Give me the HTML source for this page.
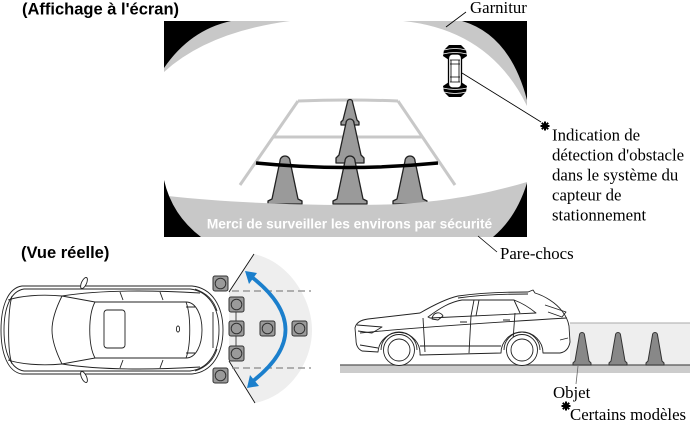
<!DOCTYPE html>
<html><head><meta charset="utf-8"><style>
html,body{margin:0;padding:0;background:#fff;}
svg{display:block;}
.sans{font-family:"Liberation Sans",Arial,sans-serif;font-weight:bold;}
.serif{font-family:"Liberation Serif","Times New Roman",serif;}
</style></head><body>
<svg width="690" height="434" viewBox="0 0 690 434" xmlns="http://www.w3.org/2000/svg">
<rect width="690" height="434" fill="#fff"/>
<!-- Titles -->
<text x="22" y="14.5" class="sans" font-size="16.5" fill="#000">(Affichage à l'écran)</text>
<text x="21" y="258" class="sans" font-size="16.5" fill="#000">(Vue réelle)</text>

<!-- SCREEN -->
<rect x="164" y="21" width="363" height="216" fill="#fff"/>
<path d="M164,21 L290,21 Q208,32 164,72 Z" fill="#c8c8c8"/>
<path d="M527,21 L403,21 Q490,30 527,106 Z" fill="#c8c8c8"/>
<path d="M164,21 L231,21 Q190,30 164,68 Z" fill="#000"/>
<path d="M527,21 L462,21 Q510,35 527,100 Z" fill="#000"/>

<!-- guide lines -->
<g stroke="#c8c8c8" stroke-width="3" fill="none" stroke-linecap="butt">
<path d="M298,101 Q348,99 398,101"/>
<path d="M298,101 L240,185"/>
<path d="M398,101 L455,185"/>
<path d="M273,137 L422,137"/>
</g>

<!-- cones in screen -->
<g fill="#9a9a9a" stroke="#222" stroke-width="1.3" stroke-linejoin="round">
<path d="M347.5,102 A2.5,2.5 0 0 1 352.5,102 L357,120 L359,122 L359,125 L341,125 L341,122 L343,120 Z"/>
<path d="M346,123 A4,4 0 0 1 354,123 L361,155 L364,158 L364,163 L336,163 L336,158 L339,155 Z"/>
<path d="M280,161 A5,5 0 0 1 290,161 L298,199 L302,201 L302,204 L268,204 L268,201 L272,199 Z"/>
<path d="M345,161 A5,5 0 0 1 355,161 L363,199 L367,201 L367,204 L333,204 L333,201 L337,199 Z"/>
<path d="M405,161 A5,5 0 0 1 415,161 L423,199 L427,201 L427,204 L393,204 L393,201 L397,199 Z"/>
</g>
<path d="M256,163 Q347,172 438,163" stroke="#000" stroke-width="3.5" fill="none"/>

<!-- bumper -->
<path d="M168,196 C230,203 330,207 400,204 C450,201 490,193 527,182 L527,237 L164,237 L164,195 Z" fill="#c8c8c8"/>
<path d="M164,180 Q172,215 201,237 L164,237 Z" fill="#000"/>
<path d="M527,183 Q516,218 493,237 L527,237 Z" fill="#000"/>
<text x="349.5" y="228.5" class="sans" font-size="13.7" fill="#fff" text-anchor="middle">Merci de surveiller les environs par sécurité</text>

<!-- small car icon -->
<g>
<path d="M449,45 L461,45 L466,50 L467,56 L461,60 L449,60 L443,56 L444,50 Z" fill="#000"/>
<path d="M444,50 Q455,47 466,50 M443,54 Q455,51 467,54" stroke="#fff" stroke-width="0.7" fill="none"/>
<path d="M449,97 L461,97 L466,92 L467,86 L461,82 L449,82 L443,86 L444,92 Z" fill="#000"/>
<path d="M444,92 Q455,95 466,92 M443,88 Q455,91 467,88" stroke="#fff" stroke-width="0.7" fill="none"/>
<rect x="448.5" y="54" width="13" height="34" rx="4" fill="#fff" stroke="#000" stroke-width="1.3"/>
<path d="M450,60 L460,60 M450,64 L460,64 M450,77 L460,77 M450,82 L460,82 M451,60 L451,82 M459,60 L459,82" stroke="#000" stroke-width="0.8" fill="none"/>
</g>

<!-- leaders -->
<g stroke="#000" stroke-width="0.8" fill="none">
<path d="M466,12 L446,27"/>
<path d="M462,73 L541,122"/>
<path d="M478,236 L497,252"/>
</g>
<text x="470" y="13" class="serif" font-size="16.8" fill="#000">Garnitur</text>

<!-- star 1 -->
<g stroke="#000" stroke-width="2" stroke-linecap="butt">
<path d="M540.5,126 L549.5,126 M545,121.5 L545,130.5 M541.8,122.8 L548.2,129.2 M548.2,122.8 L541.8,129.2"/>
</g>
<g class="serif" font-size="16.8" fill="#000">
<text x="552" y="140.5">Indication de</text>
<text x="552" y="160.5">détection d'obstacle</text>
<text x="552" y="180.5">dans le système du</text>
<text x="552" y="200.5">capteur de</text>
<text x="552" y="220.5">stationnement</text>
<text x="500" y="259">Pare-chocs</text>
<text x="553" y="398">Objet</text>
<text x="570" y="420">Certains modèles</text>
</g>
<g stroke="#000" stroke-width="2">
<path d="M561.5,406 L570.5,406 M566,401.5 L566,410.5 M562.8,402.8 L569.2,409.2 M569.2,402.8 L562.8,409.2"/>
</g>

<!-- TOP VIEW -->
<path d="M254,254 C290,262 312,300 312,330 C312,362 290,396 255,403 L229,361 L229,292 Z" fill="#eeeeee"/>
<path d="M254,254 L229,292 M229,361 L255,403" stroke="#111" stroke-width="0.9" fill="none"/>
<g stroke="#888" stroke-width="1.3" stroke-dasharray="7 4" fill="none">
<path d="M232,291 L311,291"/>
<path d="M232,368 L311,368"/>
</g>
<path d="M236,311 L236,346" stroke="#666" stroke-width="1.2"/>
<g stroke="#222" stroke-width="0.9" fill="none">
<path d="M22,286 L192,286 C212,288 223,306 223,330 C223,354 212,372 192,374 L22,374 C8,372 1,354 1,330 C1,306 8,288 22,286 Z" fill="#fff"/>
<path d="M24,289 L190,289 C208,291 219,307 219,330 C219,353 208,369 190,371 L24,371 C11,369 4,353 4,330 C4,307 11,291 24,289 Z"/>
<path d="M8,300 C20,296 40,294 62,296 M8,360 C20,364 40,366 62,364"/>
<path d="M12,296 C8,310 7,350 12,364"/>
<path d="M62,296 L95,302 L186,302 C196,302 202,315 202,330 C202,345 196,358 186,358 L95,358 L62,364 C55,350 52,340 52,330 C52,320 55,310 62,296 Z"/>
<path d="M95,302 C88,315 88,345 95,358"/>
<path d="M186,302 C191,315 191,345 186,358"/>
<path d="M186,307 L195,307 M186,353 L195,353"/>
<rect x="104" y="310" width="21" height="38" rx="3"/>
<path d="M62,296 C100,290 150,290 200,293 M62,364 C100,370 150,370 200,367"/>
<path d="M120,292 L123,300 M120,368 L123,360 M160,292 L163,300 M160,368 L163,360"/>
<path d="M195,289 C207,293 214,301 217,311 M195,371 C207,367 214,359 217,349"/>
<path d="M213,312 L213,348"/>
<ellipse cx="178" cy="329" rx="1.6" ry="3"/>
<ellipse cx="84" cy="283" rx="2.5" ry="6" transform="rotate(25 84 283)" fill="#fff"/>
<ellipse cx="84" cy="377" rx="2.5" ry="6" transform="rotate(-25 84 377)" fill="#fff"/>
</g>
<g fill="#9a9a9a" stroke="#333" stroke-width="1">
<rect x="213" y="276" width="15" height="15" rx="2"/>
<rect x="229" y="297" width="15" height="15" rx="2"/>
<rect x="229" y="321" width="15" height="15" rx="2"/>
<rect x="229" y="346" width="15" height="15" rx="2"/>
<rect x="213" y="368" width="15" height="15" rx="2"/>
<rect x="260" y="321" width="15" height="15" rx="2"/>
<rect x="292" y="321" width="15" height="15" rx="2"/>
<circle cx="220.5" cy="283.5" r="5.3"/>
<circle cx="236.5" cy="304.5" r="5.3"/>
<circle cx="236.5" cy="328.5" r="5.3"/>
<circle cx="236.5" cy="353.5" r="5.3"/>
<circle cx="220.5" cy="375.5" r="5.3"/>
<circle cx="267.5" cy="328.5" r="5.3"/>
<circle cx="299.5" cy="328.5" r="5.3"/>
</g>
<path d="M253,278 Q318,330 253,381" stroke="#1b7fcc" stroke-width="3.8" fill="none"/>
<path d="M245,271 L257,273 L249,284 Z" fill="#1b7fcc"/>
<path d="M247,388 L259,386 L250,375 Z" fill="#1b7fcc"/>

<!-- SIDE VIEW -->
<rect x="570" y="323" width="120" height="42" fill="#eeeeee"/>
<path d="M570,323 L690,323" stroke="#aaa" stroke-width="1"/>
<rect x="340" y="365" width="350" height="8" fill="#cccccc"/>
<path d="M340,365 L690,365" stroke="#555" stroke-width="1.2"/>
<g fill="#888" stroke="#333" stroke-width="1">
<path d="M579.5,335 A2.5,2.5 0 0 1 584.5,335 L589,361 L591,363 L591,365 L573,365 L573,363 L575,361 Z"/>
<path d="M615.5,335 A2.5,2.5 0 0 1 620.5,335 L625,361 L627,363 L627,365 L609,365 L609,363 L611,361 Z"/>
<path d="M652.5,335 A2.5,2.5 0 0 1 657.5,335 L662,361 L664,363 L664,365 L646,365 L646,363 L648,361 Z"/>
</g>
<path d="M578,366 L576,384" stroke="#666" stroke-width="0.8"/>
<g stroke="#222" stroke-width="0.9" fill="none" stroke-linejoin="round">
<path d="M356,340 L355,328 C356,323 360,320 368,319 L420,313 C432,306 445,299 458,296 C480,293 505,292 528,292 L533,290 L535,293 C545,296 556,303 562,311 C566,316 568,320 569,326 L570,342 C569,348 566,352 560,353 L543,353 A21,21 0 0 0 501,353 L420,355 A21,21 0 0 0 378,352 L362,351 C358,349 356,345 356,340 Z" fill="#fff"/>
<path d="M458,298 C480,295 505,294 528,294"/>
<path d="M428,317 C440,308 450,302 462,300 L514,300 C522,303 530,308 536,313 L430,318 Z"/>
<path d="M474,300 L471,316 M479,300 L476,316"/>
<path d="M514,300 L520,313"/>
<path d="M471,316 L469,353 M423,318 L425,352 M515,313 L513,340"/>
<path d="M360,333 C420,327 500,322 567,318"/>
<path d="M420,346 L501,346"/>
<path d="M357,325 L382,327 L372,333 L358,331"/>
<path d="M545,305 L566,312 L562,317 L548,312"/>
<path d="M432,319 C433,312 440,311 443,316 L438,320 Z"/>
<path d="M460,322 L467,322 M503,320 L510,320"/>
<path d="M360,345 C366,346 372,347 378,348"/>
<path d="M560,340 L568,338"/>
<path d="M381,350 A18,18 0 0 1 417,350 M504,350 A18,18 0 0 1 540,350"/>
<circle cx="399" cy="350" r="15.5" fill="#fff"/>
<circle cx="399" cy="350" r="11"/>
<circle cx="522" cy="350" r="15.5" fill="#fff"/>
<circle cx="522" cy="350" r="11"/>
</g>
</svg>
</body></html>
